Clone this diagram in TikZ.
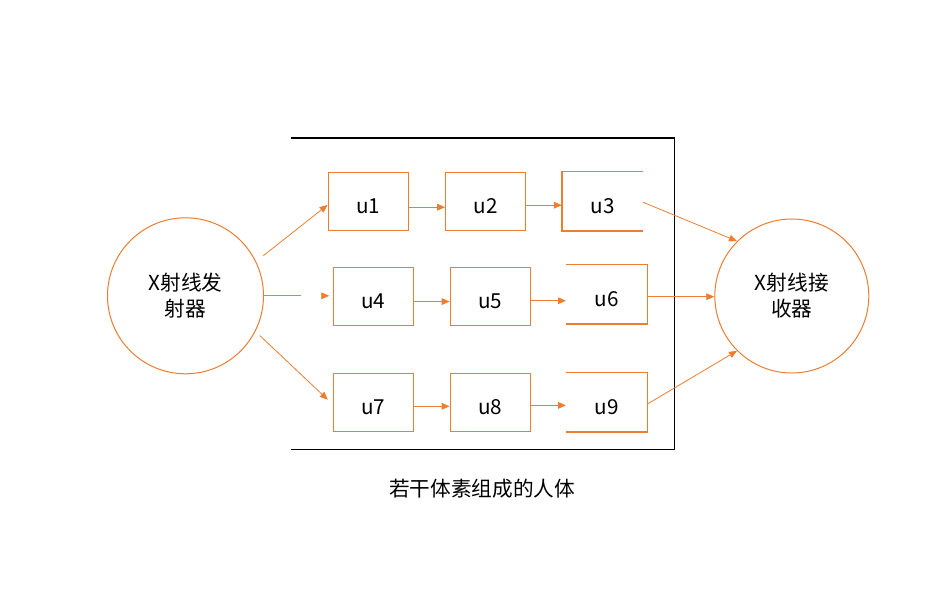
\documentclass[tikz,border=0pt]{standalone}
\usepackage{fontspec}
\setmainfont{Noto Sans CJK SC}
\usetikzlibrary{arrows.meta,calc}
\definecolor{xorange}{HTML}{ED7D31}
\begin{document}
\begin{tikzpicture}[x=0.75pt,y=-0.75pt,
  every node/.style={font=\fontsize{15.5}{19.5}\selectfont},
  cell/.style={draw=xorange,line width=1pt,minimum width=60pt,minimum height=43.5pt,inner sep=0pt,text height=18.5pt,text depth=0pt},
  opencell/.style={cell,draw=none},
  side/.style={draw=xorange,line width=1pt},
  ball/.style={circle,draw=xorange,line width=0.75pt,align=center,inner sep=0pt},
  arr/.style={draw=xorange,line width=0.8pt,-{Triangle[length=6pt,width=5pt]}},
  link/.style={draw=xorange,line width=0.6pt,-{Triangle[length=6pt,width=5pt]}}
]
\useasboundingbox (0,0) rectangle (945,596);
% body frame
\node[minimum width=287pt,minimum height=233.25pt,inner sep=0pt] (body) at (483,293.8) {};
\draw[black,line width=1pt] (body.north west) -- (body.north east) -- (body.south east) -- (body.south west);
\node (cap) at (482,489) {若干体素组成的人体};
% circles
\node[ball,minimum size=117pt] (emit) at (185.5,295.8) {X射线发\\射器};
\node[ball,minimum size=115.5pt] (recv) at (791.8,296) {X射线接\\收器};
% cells
\node[cell] (u1) at (368.3,201.2) {u1};
\node[cell] (u2) at (485.8,201.2) {u2};
\node[opencell] (u3) at (602.5,201.2) {u3};
\node[cell] (u4) at (373.3,296.2) {u4};
\node[cell] (u5) at (490.3,296.2) {u5};
\node[opencell] (u6) at (606.7,294.3) {u6};
\node[cell] (u7) at (373.3,402.3) {u7};
\node[cell] (u8) at (490.3,402.3) {u8};
\node[opencell] (u9) at (606.7,402.3) {u9};
\draw[side] (u3.north east) -- (u3.north west) -- (u3.south west) -- (u3.south east);
\draw[side] (u6.north west) -- (u6.north east) -- (u6.south east) -- (u6.south west);
\draw[side] (u9.north west) -- (u9.north east) -- (u9.south east) -- (u9.south west);
% row connectors
\draw[arr] ([yshift=-4.5pt]u1.east) -- ([yshift=-4.5pt]u2.west);
\draw[arr] ([yshift=-3pt]u2.east) -- ([yshift=-3pt]u3.west);
\draw[arr] ([yshift=-4pt]u4.east) -- ([yshift=-4pt]u5.west);
\draw[arr] ([yshift=-3.4pt]u5.east) -- ([yshift=-3.4pt]u5.east -| u6.west);
\draw[arr] ([yshift=-3pt]u7.east) -- ([yshift=-3pt]u8.west);
\draw[arr] ([yshift=-2.3pt]u8.east) -- ([yshift=-2.3pt]u8.east -| u9.west);
% emitter connectors
\draw[link,shorten <=7pt] (emit.26) -- ([yshift=-2.8pt]u1.west);
\draw[link,dash pattern=on 28pt off 17pt,shorten >=2.5pt] (emit.east) -- (emit.east -| u4.west);
\draw[link,shorten <=4.5pt,shorten >=5pt] (emit.-27) -- ([yshift=-1.5pt]u7.west);
% receiver connectors
\draw[link] ([yshift=-0.8pt]u3.east) -- (recv.135);
\draw[link] ([yshift=-1.8pt]u6.east) -- ([yshift=-1.8pt]u6.east -| recv.west);
\draw[link] ([yshift=-1.3pt]u9.east) -- (recv.225);
\end{tikzpicture}
\end{document}
